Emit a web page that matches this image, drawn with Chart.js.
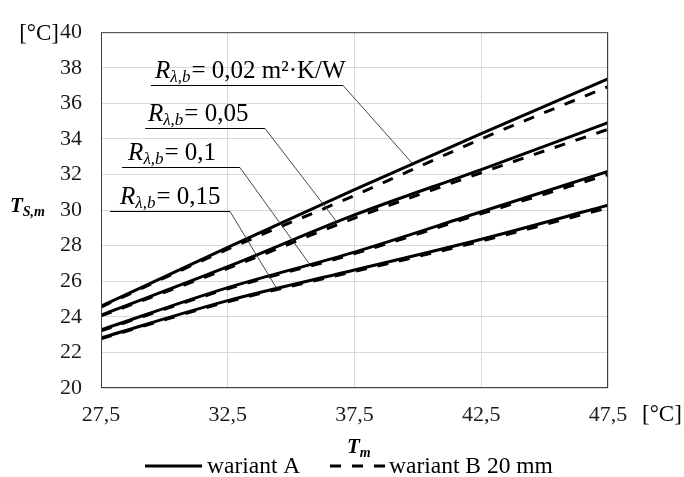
<!DOCTYPE html>
<html><head><meta charset="utf-8">
<script src="https://cdn.jsdelivr.net/npm/chart.js@4/dist/chart.umd.min.js"></script>
<style>html,body{margin:0;padding:0;background:#fff}#wrap{width:684px;height:477px}</style>
</head><body><div id="wrap"><canvas id="c" width="684" height="477"></canvas></div>
<script>
// ---- data ----
const xValues = [27.5, 32.5, 37.5, 42.5, 47.5];
const xTicks = [27.5, 32.5, 37.5, 42.5, 47.5];
const yTicks = [20, 22, 24, 26, 28, 30, 32, 34, 36, 38, 40];
const rLabels = ['0,02 m²·K/W', '0,05', '0,1', '0,15'];
const legendLabels = ['wariant A', 'wariant B 20 mm'];
const variantA_002 = [24.60, 27.90, 31.15, 34.30, 37.37];
const variantB_002 = [24.55, 27.80, 30.82, 34.00, 36.94];
const variantA_005 = [24.10, 26.82, 29.73, 32.28, 34.91];
const variantB_005 = [24.05, 26.72, 29.55, 32.10, 34.54];
const variantA_010 = [23.27, 25.64, 27.64, 29.91, 32.18];
const variantB_010 = [23.22, 25.58, 27.55, 29.80, 32.00];
const variantA_015 = [22.82, 24.91, 26.63, 28.36, 30.27];
const variantB_015 = [22.77, 24.85, 26.55, 28.26, 30.13];

const seriesA = [variantA_002, variantA_005, variantA_010, variantA_015];
const seriesB = [variantB_002, variantB_005, variantB_010, variantB_015];

// annotation layout (data units): text start x, underline x0,x1,y, leader target x on series A
const annot = [
  {tx: 29.63, x0: 29.47, x1: 37.05, y: 37.05, target: 39.80},
  {tx: 29.35, x0: 29.24, x1: 33.97, y: 34.60, target: 36.81},
  {tx: 28.57, x0: 28.33, x1: 32.98, y: 32.42, target: 35.74},
  {tx: 28.25, x0: 27.86, x1: 32.59, y: 29.95, target: 34.44}
];

const SERIF = '"Liberation Serif", "Times New Roman", serif';
const DASH = [11, 11];

function pts(arr) { return xValues.map((x, i) => ({x: x, y: arr[i]})); }

const datasets = [];
seriesA.forEach((arr, i) => datasets.push({
  label: 'A ' + rLabels[i], data: pts(arr), borderColor: '#000', borderWidth: 3,
  pointRadius: 0, cubicInterpolationMode: 'monotone', fill: false
}));
seriesB.forEach((arr, i) => datasets.push({
  label: 'B ' + rLabels[i], data: pts(arr), borderColor: '#000', borderWidth: 3,
  borderDash: DASH, pointRadius: 0, cubicInterpolationMode: 'monotone', fill: false
}));

function interp(arr, x) {
  for (let i = 0; i < xValues.length - 1; i++) {
    if (x >= xValues[i] && x <= xValues[i + 1]) {
      const t = (x - xValues[i]) / (xValues[i + 1] - xValues[i]);
      return arr[i] + t * (arr[i + 1] - arr[i]);
    }
  }
  return arr[arr.length - 1];
}

function drawSubText(ctx, x, y, main, sub, rest, size, bold) {
  const b = bold ? 'bold ' : '';
  ctx.font = 'italic ' + b + size + 'px ' + SERIF;
  ctx.textAlign = 'left'; ctx.textBaseline = 'alphabetic';
  ctx.fillText(main, x, y);
  x += ctx.measureText(main).width;
  const ss = Math.round(size * 0.66);
  ctx.font = 'italic ' + b + ss + 'px ' + SERIF;
  ctx.fillText(sub, x, y + size * 0.18);
  x += ctx.measureText(sub).width;
  if (rest) {
    ctx.font = b + size + 'px ' + SERIF;
    ctx.fillText(rest, x + 1, y);
  }
}

const overlay = {
  id: 'overlay',
  afterDraw(chart) {
    const ctx = chart.ctx, xs = chart.scales.x, ys = chart.scales.y, ca = chart.chartArea;
    ctx.save();
    // plot border
    ctx.strokeStyle = '#404040'; ctx.lineWidth = 1;
    ctx.strokeRect(ca.left + 0.5, ca.top + 0.5, ca.right - ca.left - 1, ca.bottom - ca.top - 1);
    ctx.fillStyle = '#000';
    // annotations
    annot.forEach((a, i) => {
      const px0 = xs.getPixelForValue(a.x0), px1 = xs.getPixelForValue(a.x1);
      const py = Math.round(ys.getPixelForValue(a.y)) + 0.5;
      ctx.strokeStyle = '#000'; ctx.lineWidth = 1; ctx.setLineDash([]);
      ctx.beginPath(); ctx.moveTo(px0, py); ctx.lineTo(px1, py); ctx.stroke();
      const tx = xs.getPixelForValue(a.target), ty = ys.getPixelForValue(interp(seriesA[i], a.target));
      ctx.strokeStyle = '#333'; ctx.lineWidth = 0.9;
      ctx.beginPath(); ctx.moveTo(px1, py); ctx.lineTo(tx, ty); ctx.stroke();
      drawSubText(ctx, xs.getPixelForValue(a.tx), py - 8, 'R', 'λ,b', '= ' + rLabels[i], 25, false);
    });
    // unit labels
    ctx.font = '23px ' + SERIF; ctx.textBaseline = 'alphabetic';
    ctx.textAlign = 'right';
    ctx.font = '22px ' + SERIF;
    const w40 = ctx.measureText('40').width;
    ctx.font = '23px ' + SERIF;
    ctx.fillText('[°C]', ca.left - 20 - w40, ys.getPixelForValue(40) + 8);
    ctx.textAlign = 'left';
    ctx.fillText('[°C]', ca.right + 34, ca.bottom + 33);
    // axis titles
    drawSubText(ctx, 10, 212, 'T', 'S,m', '', 21, true);
    drawSubText(ctx, 347, 453, 'T', 'm', '', 21, true);
    // legend
    ctx.strokeStyle = '#000'; ctx.lineWidth = 3; ctx.setLineDash([]);
    ctx.beginPath(); ctx.moveTo(145, 466); ctx.lineTo(202, 466); ctx.stroke();
    ctx.font = '23.5px ' + SERIF; ctx.textAlign = 'left';
    ctx.fillText(legendLabels[0], 207, 473);
    ctx.setLineDash(DASH);
    ctx.beginPath(); ctx.moveTo(330, 466); ctx.lineTo(385, 466); ctx.stroke();
    ctx.setLineDash([]);
    ctx.fillText(legendLabels[1], 389, 473);
    ctx.restore();
  }
};

new Chart(document.getElementById('c'), {
  type: 'line',
  data: {datasets: datasets},
  plugins: [overlay],
  options: {
    responsive: false, animation: false, devicePixelRatio: 1,
    layout: {autoPadding: false, padding: {left: 0, right: 76, top: 22, bottom: 0}},
    plugins: {legend: {display: false}, tooltip: {enabled: false}},
    scales: {
      x: {
        type: 'linear', min: 27.5, max: 47.5,
        afterBuildTicks: s => { s.ticks = xTicks.map(v => ({value: v})); },
        afterFit: s => { s.height = 89; },
        grid: {color: '#d9d9d9', drawTicks: false},
        border: {display: false},
        ticks: {padding: 14, color: '#1a1a1a', font: {family: SERIF, size: 22},
          callback: v => String(v).replace('.', ','), maxRotation: 0}
      },
      y: {
        type: 'linear', min: 20, max: 40,
        afterBuildTicks: s => { s.ticks = yTicks.map(v => ({value: v})); },
        afterFit: s => { s.width = 101; },
        grid: {color: '#d9d9d9', drawTicks: false},
        border: {display: false},
        ticks: {padding: 19, color: '#1a1a1a', font: {family: SERIF, size: 22},
          callback: v => String(v).replace('.', ',')}
      }
    }
  }
});
</script></body></html>
